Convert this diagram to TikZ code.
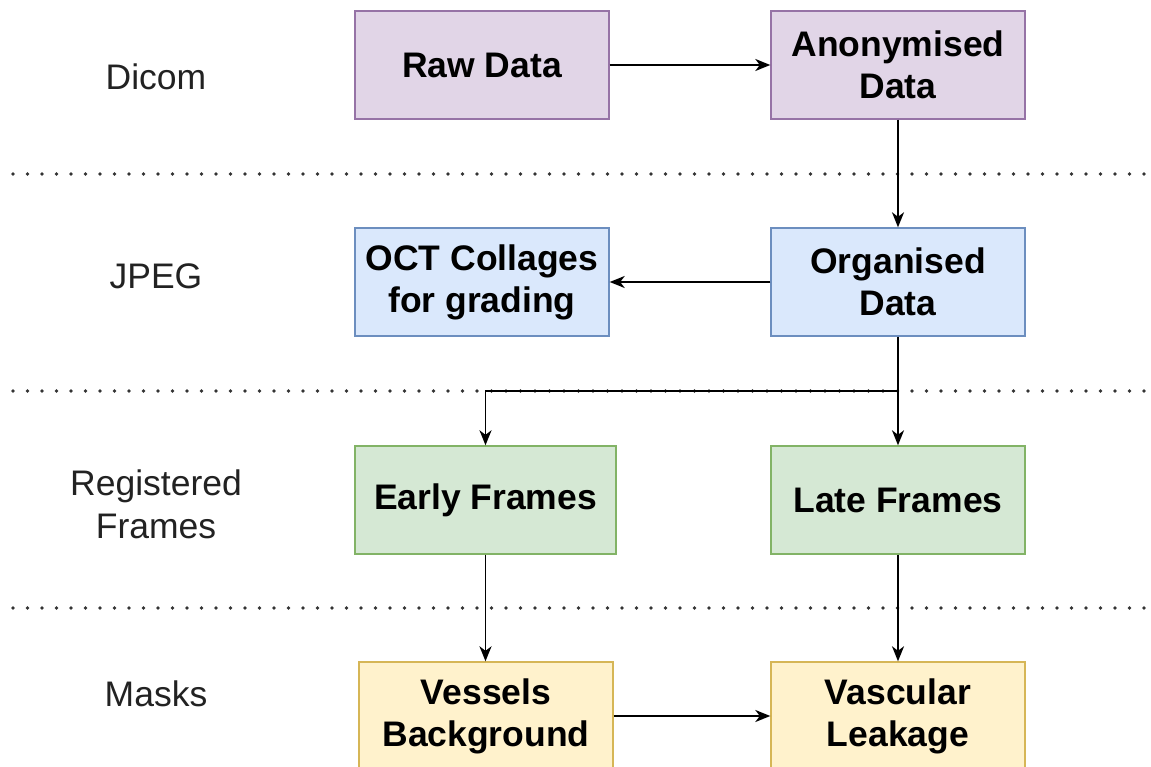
\documentclass[tikz,border=0pt]{standalone}
\usepackage{fontspec}
\setmainfont{Liberation Sans}
\usetikzlibrary{arrows.meta}
\definecolor{pfill}{HTML}{E1D5E7}\definecolor{pdraw}{HTML}{9673A6}
\definecolor{bfill}{HTML}{DAE8FC}\definecolor{bdraw}{HTML}{6C8EBF}
\definecolor{gfill}{HTML}{D5E8D4}\definecolor{gdraw}{HTML}{82B366}
\definecolor{yfill}{HTML}{FFF2CC}\definecolor{ydraw}{HTML}{D6B656}
\definecolor{lbl}{HTML}{222222}
\definecolor{sepcol}{HTML}{333333}
\begin{document}
\begin{tikzpicture}[x=1pt,y=-1pt,
  box/.style={draw, line width=1.4pt, minimum width=254pt, minimum height=108pt,
    inner sep=0pt, align=center, font=\fontsize{35.5}{42}\selectfont\bfseries},
  purplebox/.style={box, fill=pfill, draw=pdraw},
  bluebox/.style={box, fill=bfill, draw=bdraw},
  greenbox/.style={box, fill=gfill, draw=gdraw},
  yellowbox/.style={box, fill=yfill, draw=ydraw},
  arr/.style={line width=1.8pt, -{Stealth[length=15pt,width=12pt,inset=4.5pt]}},
  sepline/.style={line width=3.6pt, line cap=round, dash pattern=on 0pt off 14.5pt, draw=sepcol},
  lab/.style={font=\fontsize{35.5}{43}\selectfont, align=center, text=lbl, inner sep=0pt, anchor=base}]
\clip (0,0) rectangle (1151,767);
\fill[white] (0,0) rectangle (1151,767);

% separators
\draw[sepline] (13,174) -- (1145,174);
\draw[sepline] (13,391) -- (1145,391);
\draw[sepline] (13,608) -- (1145,608);

% row labels
\node[lab] (ldicom) at (156,90) {Dicom};
\node[lab] (ljpeg) at (156,289) {JPEG};
\node[lab] (lreg) at (156,538) {Registered\\Frames};
\node[lab] (lmask) at (156,706) {Masks};

% boxes
\node[purplebox] (raw) at (482,65) {Raw Data};
\node[purplebox] (anon) at (898,65) {Anonymised\\Data};
\node[bluebox] (oct) at (482,282) {OCT Collages\\for grading};
\node[bluebox] (org) at (898,282) {Organised\\Data};
\node[greenbox, minimum width=261pt] (early) at (485.5,500) {Early Frames};
\node[greenbox] (late) at (898,500) {Late Frames};
\node[yellowbox] (vessels) at (486,716) {Vessels\\Background};
\node[yellowbox] (vasc) at (898,716) {Vascular\\Leakage};

% connectors
\coordinate (branch) at (898,391);
\draw[arr] (raw) -- (anon);
\draw[arr] (anon) -- (org);
\draw[arr] (org) -- (oct);
\draw[arr] (org) -- (late);
\draw[arr] (branch) -| (early.north);
\draw[arr] (early.south) -- (early.south |- vessels.north);
\draw[arr] (late) -- (vasc);
\draw[arr] (vessels) -- (vasc);
\end{tikzpicture}
\end{document}
